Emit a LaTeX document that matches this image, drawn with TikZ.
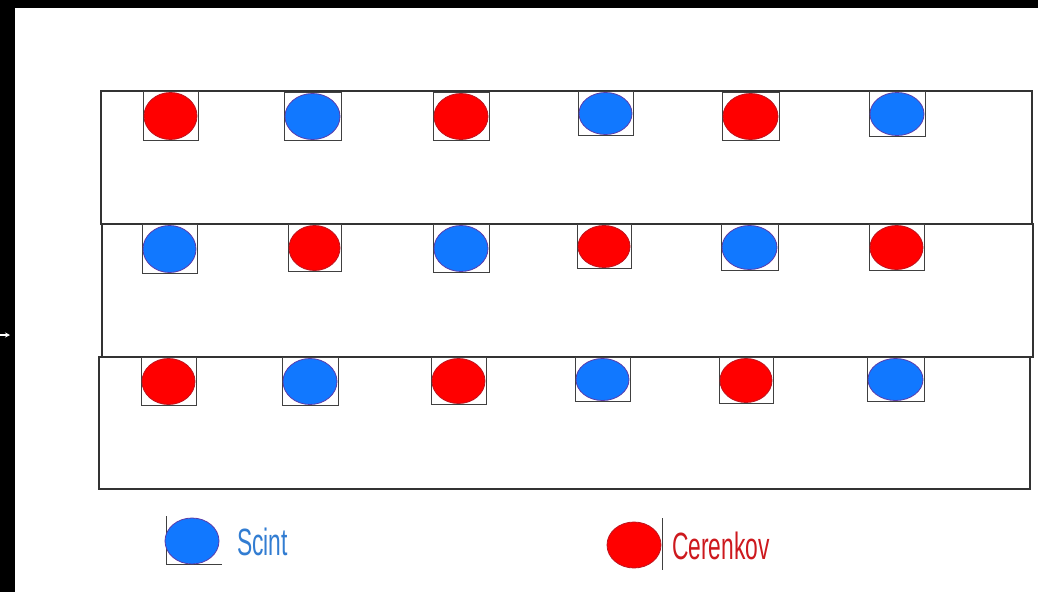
\documentclass[tikz,border=0pt]{standalone}
\usepackage{fontspec}
\setmainfont{Liberation Sans}
\usetikzlibrary{shapes.geometric,arrows.meta}
\definecolor{cred}{RGB}{255,0,0}
\definecolor{credline}{RGB}{190,20,30}
\definecolor{cblue}{RGB}{17,120,255}
\definecolor{cblueline}{RGB}{90,60,170}
\definecolor{tblue}{RGB}{50,125,210}
\definecolor{tred}{RGB}{205,25,30}
\tikzset{
  rowbox/.style={draw=black!80,line width=1.1pt},
  pmtbox/.style={draw=black!75,line width=1pt},
  redpmt/.style={fill=cred,draw=credline,line width=0.8pt},
  bluepmt/.style={fill=cblue,draw=cblueline,line width=0.8pt},
  legtext/.style={font=\fontsize{38}{38}\selectfont,inner sep=0pt,anchor=west}
}
\begin{document}
\begin{tikzpicture}[x=1pt,y=-1pt]
\useasboundingbox (0,0) rectangle (1038,592);
\fill[black] (0,0) rectangle (1038,592);
\fill[white] (15,8) rectangle (1038,592);
% small white mark on left border
\draw[white,line width=1.5pt,-{Stealth[length=5pt,width=5pt]}] (0,335) -- (10,335);
% row rectangles
\draw[rowbox] (101,91) rectangle (1032,224);
\draw[rowbox] (102,224) rectangle (1033,357);
\draw[rowbox] (99,357) rectangle (1030,489);
% PMT boxes and circles
\foreach \xa/\ya/\xb/\yb/\st [count=\i] in {
  143/91/198/140/redpmt, 284/92/341/140/bluepmt, 433/92/489/140/redpmt,
  578/91/633/135/bluepmt, 722/92/779/140/redpmt, 869/91/925/136/bluepmt,
  142/224/197/273/bluepmt, 288/224/341/271/redpmt, 433/224/489/272/bluepmt,
  577/224/631/268/redpmt, 721/224/778/270/bluepmt, 869/224/924/270/redpmt,
  141/357/196/405/redpmt, 282/357/338/405/bluepmt, 431/357/486/404/redpmt,
  575/357/630/401/bluepmt, 719/357/773/403/redpmt, 867/357/924/401/bluepmt}{
  \draw[pmtbox] (\xa,\ya) rectangle (\xb,\yb);
  \path[\st] ({(\xa+\xb)/2},{(\ya+\yb)/2+0.5}) ellipse ({(\xb-\xa)/2-1} and {(\yb-\ya)/2-1});
}
% legend
\draw[black!75,line width=1pt] (166,516) -- (166,564) -- (222,564);
\path[bluepmt] (192,541) ellipse (27 and 23);
\node[legtext,text=tblue] (scint) at (237,542) {\scalebox{0.6}[1]{Scint}};
\path[redpmt] (634,545) ellipse (27 and 23);
\draw[black!75,line width=1pt] (662,518) -- (662,570);
\node[legtext,text=tred] (cer) at (672,546) {\scalebox{0.6}[1]{Cerenkov}};
\end{tikzpicture}
\end{document}
